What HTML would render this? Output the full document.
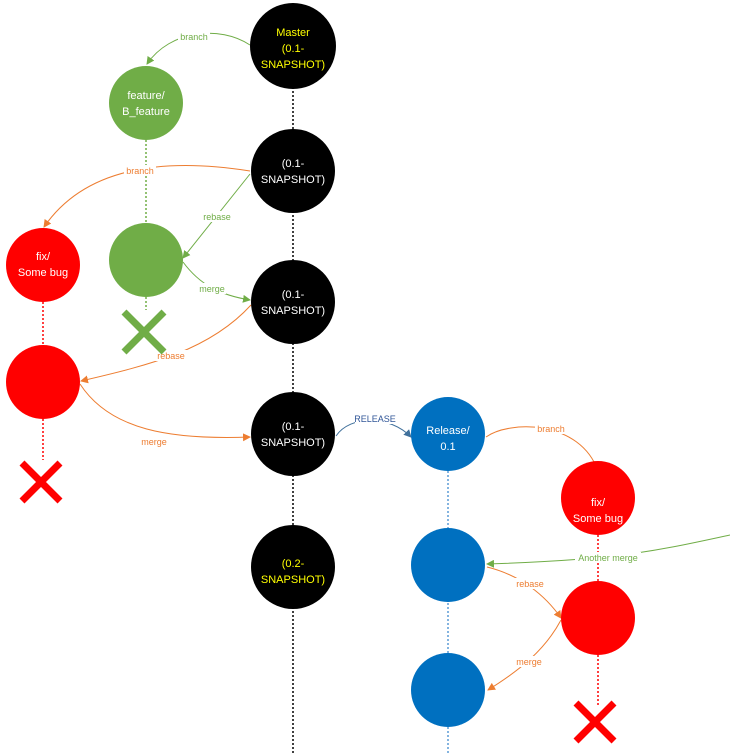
<!DOCTYPE html>
<html><head><style>html,body{margin:0;padding:0;background:#fff}svg{display:block}</style></head><body>
<svg width="730" height="754" viewBox="0 0 730 754" xmlns="http://www.w3.org/2000/svg" font-family="'Liberation Sans',sans-serif">
<defs>
<marker id="ag" markerWidth="8" markerHeight="8" refX="7" refY="4" orient="auto" markerUnits="userSpaceOnUse"><path d="M0,0L8,4L0,8z" fill="#70ad47"/></marker>
<marker id="ao" markerWidth="8" markerHeight="8" refX="7" refY="4" orient="auto" markerUnits="userSpaceOnUse"><path d="M0,0L8,4L0,8z" fill="#ed7d31"/></marker>
<marker id="ab" markerWidth="8" markerHeight="8" refX="7" refY="4" orient="auto" markerUnits="userSpaceOnUse"><path d="M0,0L8,4L0,8z" fill="#41719c"/></marker>
</defs>
<!-- vertical dotted lines -->
<g stroke-width="1.5" stroke-dasharray="2,2" fill="none">
<line x1="293" y1="83" x2="293" y2="754" stroke="#000"/>
<line x1="146" y1="140" x2="146" y2="223" stroke="#70ad47"/>
<line x1="146" y1="297" x2="146" y2="310" stroke="#70ad47"/>
<line x1="43" y1="302" x2="43" y2="345" stroke="#ff0000"/>
<line x1="43" y1="419" x2="43" y2="460" stroke="#ff0000"/>
<line x1="448" y1="471" x2="448" y2="754" stroke="#5b9bd5"/>
<line x1="598" y1="535" x2="598" y2="581" stroke="#ff0000"/>
<line x1="598" y1="655" x2="598" y2="705" stroke="#ff0000"/>
</g>
<!-- edges -->
<g fill="none" stroke-width="1">
<path d="M250,45 C220,25 170,30 147,64" stroke="#70ad47" marker-end="url(#ag)"/>
<path d="M250,171 C180,160 90,160 44,227" stroke="#ed7d31" marker-end="url(#ao)"/>
<path d="M250,174 L183,258" stroke="#70ad47" marker-end="url(#ag)"/>
<path d="M183,262 C200,285 220,295 250,300" stroke="#70ad47" marker-end="url(#ag)"/>
<path d="M251,305 C210,350 150,365 81,381" stroke="#ed7d31" marker-end="url(#ao)"/>
<path d="M80,384 C110,430 170,440 250,437" stroke="#ed7d31" marker-end="url(#ao)"/>
<path d="M336,436 C350,415 390,415 411,437" stroke="#41719c" marker-end="url(#ab)"/>
<path d="M486,437 C510,420 580,420 598,471" stroke="#ed7d31" marker-end="url(#ao)"/>
<path d="M730,535 C660,550 620,560 487,564" stroke="#70ad47" marker-end="url(#ag)"/>
<path d="M487,567 C520,575 545,595 561,618" stroke="#ed7d31" marker-end="url(#ao)"/>
<path d="M561,620 C545,650 520,670 488,690" stroke="#ed7d31" marker-end="url(#ao)"/>
</g>
<!-- edge labels -->
<g font-size="9" text-anchor="middle">
<rect x="178" y="31" width="32" height="11" fill="#fff"/><text x="194" y="40" fill="#70ad47">branch</text>
<rect x="124" y="165" width="32" height="11" fill="#fff"/><text x="140" y="174" fill="#ed7d31">branch</text>
<rect x="200" y="211" width="33" height="11" fill="#fff"/><text x="217" y="220" fill="#70ad47">rebase</text>
<rect x="198" y="283" width="28" height="11" fill="#fff"/><text x="212" y="292" fill="#70ad47">merge</text>
<rect x="155" y="350" width="33" height="11" fill="#fff"/><text x="171" y="359" fill="#ed7d31">rebase</text>
<rect x="140" y="436" width="28" height="11" fill="#fff"/><text x="154" y="445" fill="#ed7d31">merge</text>
<rect x="355" y="413" width="40" height="11" fill="#fff"/><text x="375" y="422" fill="#2f5597">RELEASE</text>
<rect x="535" y="423" width="32" height="11" fill="#fff"/><text x="551" y="432" fill="#ed7d31">branch</text>
<rect x="575" y="552" width="66" height="11" fill="#fff"/><text x="608" y="561" fill="#70ad47">Another merge</text>
<rect x="514" y="578" width="33" height="11" fill="#fff"/><text x="530" y="587" fill="#ed7d31">rebase</text>
<rect x="515" y="656" width="28" height="11" fill="#fff"/><text x="529" y="665" fill="#ed7d31">merge</text>
</g>
<!-- nodes -->
<g>
<circle cx="293" cy="46" r="43" fill="#000"/>
<circle cx="293" cy="171" r="42" fill="#000"/>
<circle cx="293" cy="302" r="42" fill="#000"/>
<circle cx="293" cy="434" r="42" fill="#000"/>
<circle cx="293" cy="567" r="42" fill="#000"/>
<circle cx="146" cy="103" r="37" fill="#70ad47"/>
<circle cx="146" cy="260" r="37" fill="#70ad47"/>
<circle cx="43" cy="265" r="37" fill="#ff0000"/>
<circle cx="43" cy="382" r="37" fill="#ff0000"/>
<circle cx="448" cy="434" r="37" fill="#0070c0"/>
<circle cx="448" cy="565" r="37" fill="#0070c0"/>
<circle cx="448" cy="690" r="37" fill="#0070c0"/>
<circle cx="598" cy="498" r="37" fill="#ff0000"/>
<circle cx="598" cy="618" r="37" fill="#ff0000"/>
</g>
<g font-size="11" text-anchor="middle">
<text x="293" y="36" fill="#ffff00">Master</text><text x="293" y="52" fill="#ffff00">(0.1-</text><text x="293" y="68" fill="#ffff00">SNAPSHOT)</text>
<text x="293" y="167" fill="#fff">(0.1-</text><text x="293" y="183" fill="#fff">SNAPSHOT)</text>
<text x="293" y="298" fill="#fff">(0.1-</text><text x="293" y="314" fill="#fff">SNAPSHOT)</text>
<text x="293" y="430" fill="#fff">(0.1-</text><text x="293" y="446" fill="#fff">SNAPSHOT)</text>
<text x="293" y="567" fill="#ffff00">(0.2-</text><text x="293" y="583" fill="#ffff00">SNAPSHOT)</text>
<text x="146" y="99" fill="#fff">feature/</text><text x="146" y="115" fill="#fff">B_feature</text>
<text x="43" y="260" fill="#fff">fix/</text><text x="43" y="276" fill="#fff">Some bug</text>
<text x="448" y="434" fill="#fff">Release/</text><text x="448" y="450" fill="#fff">0.1</text>
<text x="598" y="506" fill="#fff">fix/</text><text x="598" y="522" fill="#fff">Some bug</text>
</g>
<!-- X marks -->
<g stroke-width="7" stroke-linecap="butt">
<path d="M124,312 L164,352 M164,312 L124,352" stroke="#70ad47"/>
<path d="M22,463 L60,501 M60,463 L22,501" stroke="#ff0000"/>
<path d="M576,703 L614,741 M614,703 L576,741" stroke="#ff0000"/>
</g>
</svg>
</body></html>
